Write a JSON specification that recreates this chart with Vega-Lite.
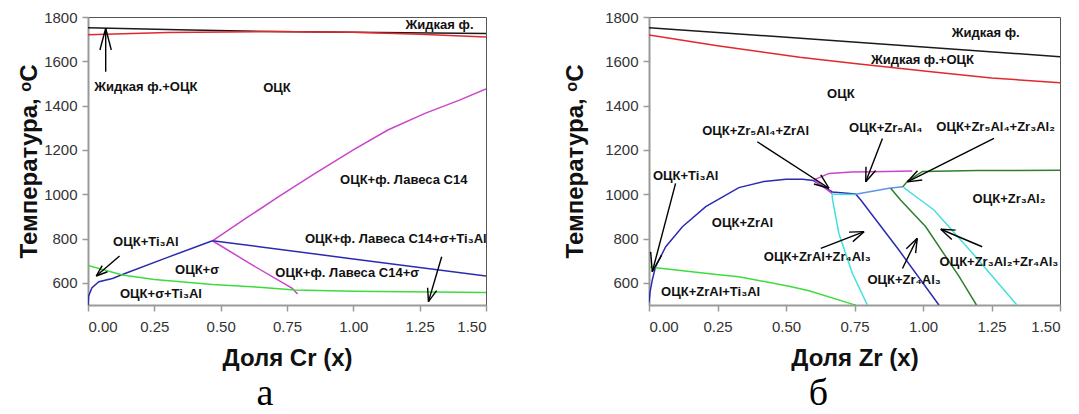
{
  "$schema": "https://vega.github.io/schema/vega-lite/v6.json",
  "padding": {"left": 17, "top": 9, "right": 5, "bottom": 0},
  "spacing": 75,
  "config": {
    "font": "Liberation Sans",
    "view": {"stroke": "#555", "strokeWidth": 1},
    "axis": {
      "labelFont": "Liberation Sans", "labelFontSize": 15, "labelColor": "#333",
      "domainColor": "#999", "domainWidth": 2, "tickColor": "#999", "tickWidth": 1.5, "tickSize": 6,
      "grid": false, "titleFont": "Liberation Sans", "titleFontSize": 24, "titleFontWeight": "bold", "titleColor": "#111"
    },
    "title": {"font": "Liberation Serif", "fontSize": 38, "fontWeight": "normal", "color": "#000"}
  },
  "datasets": {
    "lines_a": [
      {"id": "a1", "b": "liquidus", "x": 0, "T": 1752}, {"id": "a1", "b": "liquidus", "x": 0.34, "T": 1742}, {"id": "a1", "b": "liquidus", "x": 0.68, "T": 1735}, {"id": "a1", "b": "liquidus", "x": 1.1, "T": 1730}, {"id": "a1", "b": "liquidus", "x": 1.5, "T": 1725},
      {"id": "a2", "b": "solidus", "x": 0, "T": 1720}, {"id": "a2", "b": "solidus", "x": 0.3, "T": 1730}, {"id": "a2", "b": "solidus", "x": 0.68, "T": 1734}, {"id": "a2", "b": "solidus", "x": 1.0, "T": 1731}, {"id": "a2", "b": "solidus", "x": 1.25, "T": 1722}, {"id": "a2", "b": "solidus", "x": 1.5, "T": 1710},
      {"id": "a3", "b": "laves", "x": 0.469, "T": 790}, {"id": "a3", "b": "laves", "x": 0.6, "T": 895}, {"id": "a3", "b": "laves", "x": 0.72, "T": 990}, {"id": "a3", "b": "laves", "x": 0.85, "T": 1090}, {"id": "a3", "b": "laves", "x": 1.0, "T": 1200}, {"id": "a3", "b": "laves", "x": 1.13, "T": 1290}, {"id": "a3", "b": "laves", "x": 1.27, "T": 1365}, {"id": "a3", "b": "laves", "x": 1.4, "T": 1425}, {"id": "a3", "b": "laves", "x": 1.5, "T": 1475},
      {"id": "a4", "b": "laves", "x": 0.469, "T": 790}, {"id": "a4", "b": "laves", "x": 0.62, "T": 680}, {"id": "a4", "b": "laves", "x": 0.77, "T": 575}, {"id": "a4", "b": "laves", "x": 0.79, "T": 550},
      {"id": "a5", "b": "bcc_solvus", "x": 0, "T": 500}, {"id": "a5", "b": "bcc_solvus", "x": 0.002, "T": 540}, {"id": "a5", "b": "bcc_solvus", "x": 0.015, "T": 578}, {"id": "a5", "b": "bcc_solvus", "x": 0.041, "T": 605}, {"id": "a5", "b": "bcc_solvus", "x": 0.092, "T": 620}, {"id": "a5", "b": "bcc_solvus", "x": 0.142, "T": 643}, {"id": "a5", "b": "bcc_solvus", "x": 0.3, "T": 715}, {"id": "a5", "b": "bcc_solvus", "x": 0.469, "T": 790},
      {"id": "a6", "b": "bcc_solvus", "x": 0.469, "T": 790}, {"id": "a6", "b": "bcc_solvus", "x": 0.645, "T": 763}, {"id": "a6", "b": "bcc_solvus", "x": 1.0, "T": 708}, {"id": "a6", "b": "bcc_solvus", "x": 1.5, "T": 631},
      {"id": "a7", "b": "ti3al_solvus", "x": 0, "T": 678}, {"id": "a7", "b": "ti3al_solvus", "x": 0.13, "T": 635}, {"id": "a7", "b": "ti3al_solvus", "x": 0.25, "T": 615}, {"id": "a7", "b": "ti3al_solvus", "x": 0.47, "T": 592}, {"id": "a7", "b": "ti3al_solvus", "x": 0.645, "T": 580}, {"id": "a7", "b": "ti3al_solvus", "x": 0.78, "T": 568}, {"id": "a7", "b": "ti3al_solvus", "x": 1.0, "T": 562}, {"id": "a7", "b": "ti3al_solvus", "x": 1.5, "T": 556}
    ],
    "arrows_a": [
      {"x": 0.0667, "T": 1553, "x2": 0.0667, "T2": 1749}, {"x": 0.0667, "T": 1749, "x2": 0.045, "T2": 1651}, {"x": 0.0667, "T": 1749, "x2": 0.0878, "T2": 1651},
      {"x": 0.119, "T": 721, "x2": 0.031, "T2": 631}, {"x": 0.031, "T": 631, "x2": 0.0735, "T2": 650}, {"x": 0.031, "T": 631, "x2": 0.0535, "T2": 678},
      {"x": 1.333, "T": 718, "x2": 1.283, "T2": 515}, {"x": 1.283, "T": 515, "x2": 1.314, "T2": 565}, {"x": 1.283, "T": 515, "x2": 1.28, "T2": 578}
    ],
    "labels_a": [
      {"text": "Жидкая ф.", "x": 1.325, "T": 1764},
      {"text": "Жидкая ф.+ОЦК", "x": 0.218, "T": 1484},
      {"text": "ОЦК", "x": 0.712, "T": 1480},
      {"text": "ОЦК+ф. Лавеса С14", "x": 1.19, "T": 1064},
      {"text": "ОЦК+Ti₃Al", "x": 0.218, "T": 784},
      {"text": "ОЦК+σ", "x": 0.411, "T": 658},
      {"text": "ОЦК+σ+Ti₃Al", "x": 0.275, "T": 549},
      {"text": "ОЦК+ф. Лавеса С14+σ+Ti₃Al", "x": 1.16, "T": 798},
      {"text": "ОЦК+ф. Лавеса С14+σ", "x": 0.977, "T": 644}
    ],
    "lines_b": [
      {"id": "b1", "b": "liquidus", "x": 0, "T": 1752}, {"id": "b1", "b": "liquidus", "x": 1.5, "T": 1621},
      {"id": "b2", "b": "solidus", "x": 0, "T": 1719}, {"id": "b2", "b": "solidus", "x": 0.25, "T": 1670}, {"id": "b2", "b": "solidus", "x": 0.55, "T": 1618}, {"id": "b2", "b": "solidus", "x": 0.75, "T": 1590}, {"id": "b2", "b": "solidus", "x": 1.03, "T": 1553}, {"id": "b2", "b": "solidus", "x": 1.25, "T": 1525}, {"id": "b2", "b": "solidus", "x": 1.5, "T": 1503},
      {"id": "b3", "b": "bcc_solvus", "x": 0, "T": 512}, {"id": "b3", "b": "bcc_solvus", "x": 0.004, "T": 560}, {"id": "b3", "b": "bcc_solvus", "x": 0.012, "T": 613}, {"id": "b3", "b": "bcc_solvus", "x": 0.024, "T": 673}, {"id": "b3", "b": "bcc_solvus", "x": 0.061, "T": 763}, {"id": "b3", "b": "bcc_solvus", "x": 0.122, "T": 853}, {"id": "b3", "b": "bcc_solvus", "x": 0.207, "T": 944}, {"id": "b3", "b": "bcc_solvus", "x": 0.328, "T": 1030}, {"id": "b3", "b": "bcc_solvus", "x": 0.42, "T": 1058}, {"id": "b3", "b": "bcc_solvus", "x": 0.5, "T": 1068}, {"id": "b3", "b": "bcc_solvus", "x": 0.56, "T": 1068}, {"id": "b3", "b": "bcc_solvus", "x": 0.6, "T": 1062}, {"id": "b3", "b": "bcc_solvus", "x": 0.669, "T": 1010}, {"id": "b3", "b": "bcc_solvus", "x": 0.754, "T": 1001},
      {"id": "b4", "b": "bcc_solvus", "x": 0.754, "T": 1001}, {"id": "b4", "b": "bcc_solvus", "x": 0.773, "T": 974}, {"id": "b4", "b": "bcc_solvus", "x": 0.912, "T": 748}, {"id": "b4", "b": "bcc_solvus", "x": 1.058, "T": 500},
      {"id": "b5", "b": "laves", "x": 0.602, "T": 1065}, {"id": "b5", "b": "laves", "x": 0.657, "T": 1094}, {"id": "b5", "b": "laves", "x": 0.74, "T": 1100}, {"id": "b5", "b": "laves", "x": 0.815, "T": 1102}, {"id": "b5", "b": "laves", "x": 0.961, "T": 1105},
      {"id": "b6", "b": "laves", "x": 0.602, "T": 1065}, {"id": "b6", "b": "laves", "x": 0.669, "T": 1003},
      {"id": "b7", "b": "zr4al3", "x": 0.668, "T": 1000}, {"id": "b7", "b": "zr4al3", "x": 0.67, "T": 975}, {"id": "b7", "b": "zr4al3", "x": 0.693, "T": 823}, {"id": "b7", "b": "zr4al3", "x": 0.742, "T": 643}, {"id": "b7", "b": "zr4al3", "x": 0.797, "T": 500},
      {"id": "b8", "b": "zr4al3", "x": 0.669, "T": 1000}, {"id": "b8", "b": "zr4al3", "x": 0.754, "T": 999},
      {"id": "b9", "b": "zr5al4_solvus", "x": 0.754, "T": 1000}, {"id": "b9", "b": "zr5al4_solvus", "x": 0.876, "T": 1027}, {"id": "b9", "b": "zr5al4_solvus", "x": 0.925, "T": 1034},
      {"id": "b10", "b": "zr3al2", "x": 0.925, "T": 1032}, {"id": "b10", "b": "zr3al2", "x": 0.943, "T": 1058}, {"id": "b10", "b": "zr3al2", "x": 0.998, "T": 1103}, {"id": "b10", "b": "zr3al2", "x": 1.2, "T": 1107}, {"id": "b10", "b": "zr3al2", "x": 1.5, "T": 1108},
      {"id": "b11", "b": "zr3al2", "x": 0.882, "T": 1027}, {"id": "b11", "b": "zr3al2", "x": 0.918, "T": 974}, {"id": "b11", "b": "zr3al2", "x": 1.01, "T": 853}, {"id": "b11", "b": "zr3al2", "x": 1.131, "T": 630}, {"id": "b11", "b": "zr3al2", "x": 1.195, "T": 500},
      {"id": "b12", "b": "zr4al3", "x": 0.93, "T": 1030}, {"id": "b12", "b": "zr4al3", "x": 0.991, "T": 974}, {"id": "b12", "b": "zr4al3", "x": 1.04, "T": 929}, {"id": "b12", "b": "zr4al3", "x": 1.18, "T": 735}, {"id": "b12", "b": "zr4al3", "x": 1.338, "T": 507}, {"id": "b12", "b": "zr4al3", "x": 1.343, "T": 500},
      {"id": "b13", "b": "ti3al_solvus", "x": 0, "T": 672}, {"id": "b13", "b": "ti3al_solvus", "x": 0.255, "T": 637}, {"id": "b13", "b": "ti3al_solvus", "x": 0.328, "T": 628}, {"id": "b13", "b": "ti3al_solvus", "x": 0.511, "T": 585}, {"id": "b13", "b": "ti3al_solvus", "x": 0.584, "T": 564}, {"id": "b13", "b": "ti3al_solvus", "x": 0.742, "T": 504}, {"id": "b13", "b": "ti3al_solvus", "x": 0.755, "T": 500}
    ],
    "arrows_b": [
      {"x": 0.097, "T": 1049, "x2": 0.012, "T2": 650}, {"x": 0.012, "T": 650, "x2": 0.006, "T2": 740}, {"x": 0.012, "T": 650, "x2": 0.046, "T2": 725},
      {"x": 0.395, "T": 1237, "x2": 0.657, "T2": 1027}, {"x": 0.657, "T": 1027, "x2": 0.627, "T2": 1087}, {"x": 0.657, "T": 1027, "x2": 0.602, "T2": 1046},
      {"x": 0.852, "T": 1252, "x2": 0.791, "T2": 1056}, {"x": 0.791, "T": 1056, "x2": 0.827, "T2": 1107}, {"x": 0.791, "T": 1056, "x2": 0.792, "T2": 1124},
      {"x": 1.259, "T": 1252, "x2": 0.943, "T2": 1056}, {"x": 0.943, "T": 1056, "x2": 0.997, "T2": 1064}, {"x": 0.943, "T": 1056, "x2": 0.98, "T2": 1106},
      {"x": 0.627, "T": 756, "x2": 0.785, "T2": 831}, {"x": 0.785, "T": 831, "x2": 0.73, "T2": 829}, {"x": 0.785, "T": 831, "x2": 0.744, "T2": 786},
      {"x": 0.925, "T": 665, "x2": 0.979, "T2": 801}, {"x": 0.979, "T": 801, "x2": 0.939, "T2": 754}, {"x": 0.979, "T": 801, "x2": 0.973, "T2": 734},
      {"x": 1.216, "T": 763, "x2": 1.065, "T2": 842}, {"x": 1.065, "T": 842, "x2": 1.105, "T2": 796}, {"x": 1.065, "T": 842, "x2": 1.119, "T2": 838}
    ],
    "labels_b": [
      {"text": "Жидкая ф.", "x": 1.229, "T": 1726},
      {"text": "Жидкая ф.+ОЦК", "x": 0.998, "T": 1606},
      {"text": "ОЦК", "x": 0.7, "T": 1451},
      {"text": "ОЦК+Zr₅Al₄+ZrAl", "x": 0.389, "T": 1287},
      {"text": "ОЦК+Zr₅Al₄", "x": 0.864, "T": 1297},
      {"text": "ОЦК+Zr₅Al₄+Zr₃Al₂", "x": 1.265, "T": 1305},
      {"text": "ОЦК+Ti₃Al", "x": 0.134, "T": 1082},
      {"text": "ОЦК+ZrAl", "x": 0.341, "T": 869},
      {"text": "ОЦК+Zr₃Al₂", "x": 1.314, "T": 977},
      {"text": "ОЦК+ZrAl+Ti₃Al", "x": 0.225, "T": 560},
      {"text": "ОЦК+ZrAl+Zr₄Al₃", "x": 0.614, "T": 718},
      {"text": "ОЦК+Zr₄Al₃", "x": 0.931, "T": 613},
      {"text": "ОЦК+Zr₃Al₂+Zr₄Al₃", "x": 1.277, "T": 695}
    ]
  },
  "hconcat": [
    {
      "width": 398, "height": 288,
      "title": {"text": "а", "orient": "bottom", "frame": "group", "anchor": "middle", "dx": -22, "offset": 5},
      "layer": [
        {
          "data": {"name": "lines_a"},
          "mark": {"type": "line", "strokeWidth": 1.5, "clip": true},
          "encoding": {
            "x": {"field": "x", "type": "quantitative", "scale": {"domain": [0, 1.5], "nice": false},
                  "axis": {"title": "Доля Cr (x)", "values": [0, 0.25, 0.5, 0.75, 1, 1.25, 1.5], "format": ".2f", "labelPadding": 8, "titlePadding": 12}},
            "y": {"field": "T", "type": "quantitative", "scale": {"domain": [500, 1800], "nice": false, "zero": false},
                  "axis": {"title": "Температура, ᵒC", "values": [600, 800, 1000, 1200, 1400, 1600, 1800], "format": "d", "labelPadding": 5, "titlePadding": 2}},
            "color": {"field": "b", "type": "nominal", "legend": null,
                      "scale": {"domain": ["liquidus", "solidus", "laves", "bcc_solvus", "ti3al_solvus", "zr4al3", "zr5al4_solvus", "zr3al2"],
                                "range": ["#1a1a1a", "#e0282e", "#cc44cc", "#2b2bb0", "#3ddc3d", "#44e0dc", "#5a96ee", "#2f7f2f"]}},
            "detail": {"field": "id", "type": "nominal"}
          }
        },
        {
          "data": {"name": "arrows_a"},
          "mark": {"type": "rule", "color": "#000", "strokeWidth": 1.4, "clip": true},
          "encoding": {
            "x": {"field": "x", "type": "quantitative"},
            "y": {"field": "T", "type": "quantitative"},
            "x2": {"field": "x2"},
            "y2": {"field": "T2"}
          }
        },
        {
          "data": {"name": "labels_a"},
          "mark": {"type": "text", "fontSize": 13, "fontWeight": "bold", "color": "#111", "align": "center", "baseline": "middle", "clip": true},
          "encoding": {
            "x": {"field": "x", "type": "quantitative"},
            "y": {"field": "T", "type": "quantitative"},
            "text": {"field": "text"}
          }
        }
      ]
    },
    {
      "width": 411, "height": 288,
      "title": {"text": "б", "orient": "bottom", "frame": "group", "anchor": "middle", "dx": -36, "offset": 5},
      "layer": [
        {
          "data": {"name": "lines_b"},
          "mark": {"type": "line", "strokeWidth": 1.5, "clip": true},
          "encoding": {
            "x": {"field": "x", "type": "quantitative", "scale": {"domain": [0, 1.5], "nice": false},
                  "axis": {"title": "Доля Zr (x)", "values": [0, 0.25, 0.5, 0.75, 1, 1.25, 1.5], "format": ".2f", "labelPadding": 8, "titlePadding": 12}},
            "y": {"field": "T", "type": "quantitative", "scale": {"domain": [500, 1800], "nice": false, "zero": false},
                  "axis": {"title": "Температура, ᵒC", "values": [600, 800, 1000, 1200, 1400, 1600, 1800], "format": "d", "labelPadding": 5, "titlePadding": 17}},
            "color": {"field": "b", "type": "nominal", "legend": null,
                      "scale": {"domain": ["liquidus", "solidus", "laves", "bcc_solvus", "ti3al_solvus", "zr4al3", "zr5al4_solvus", "zr3al2"],
                                "range": ["#1a1a1a", "#e0282e", "#cc44cc", "#2b2bb0", "#3ddc3d", "#44e0dc", "#5a96ee", "#2f7f2f"]}},
            "detail": {"field": "id", "type": "nominal"}
          }
        },
        {
          "data": {"name": "arrows_b"},
          "mark": {"type": "rule", "color": "#000", "strokeWidth": 1.4, "clip": true},
          "encoding": {
            "x": {"field": "x", "type": "quantitative"},
            "y": {"field": "T", "type": "quantitative"},
            "x2": {"field": "x2"},
            "y2": {"field": "T2"}
          }
        },
        {
          "data": {"name": "labels_b"},
          "mark": {"type": "text", "fontSize": 13, "fontWeight": "bold", "color": "#111", "align": "center", "baseline": "middle", "clip": true},
          "encoding": {
            "x": {"field": "x", "type": "quantitative"},
            "y": {"field": "T", "type": "quantitative"},
            "text": {"field": "text"}
          }
        }
      ]
    }
  ]
}
